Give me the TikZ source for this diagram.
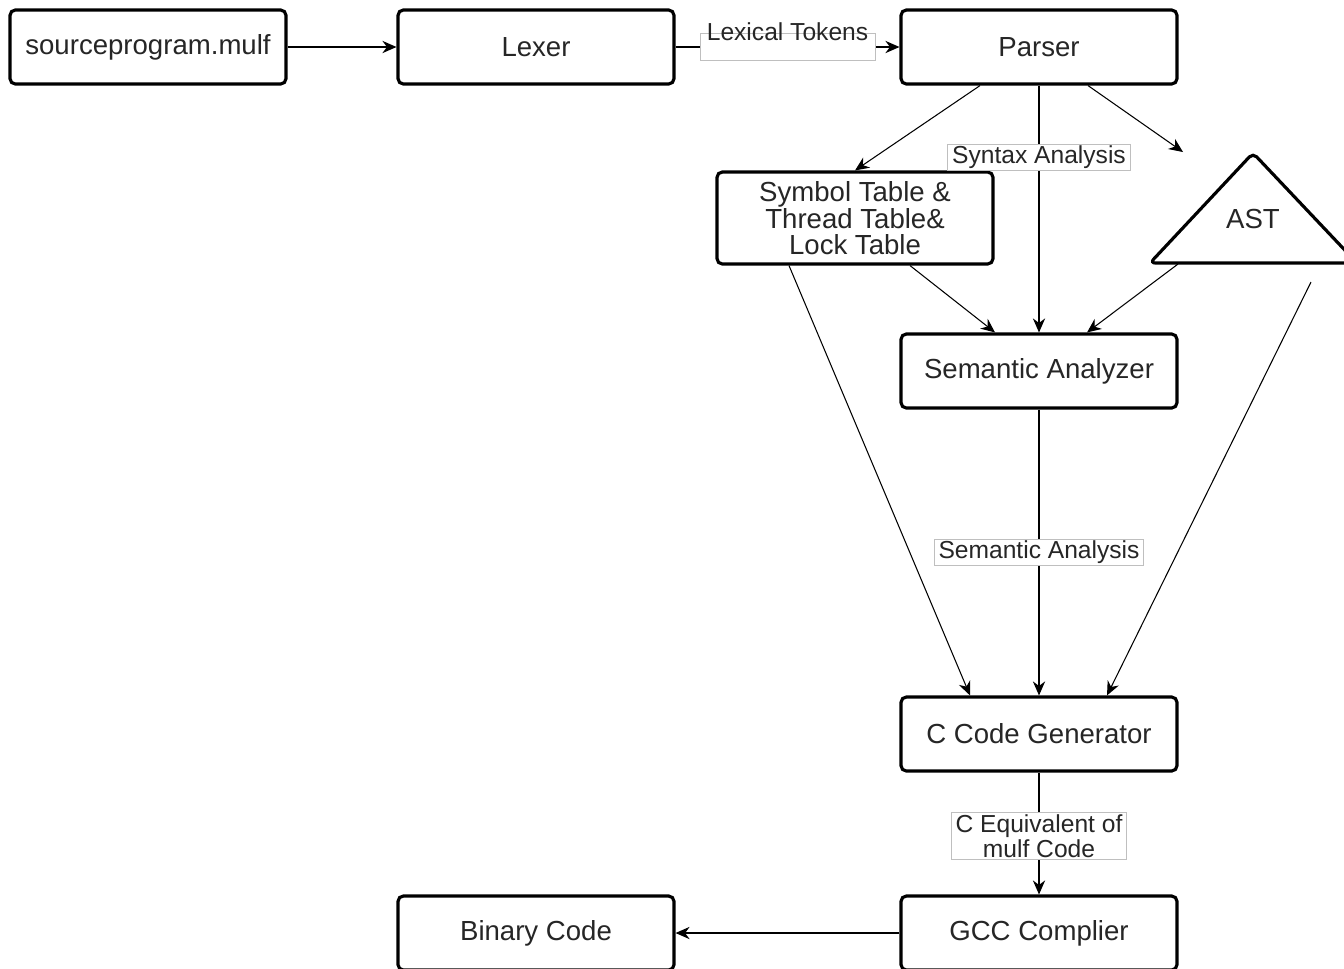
\documentclass[tikz,border=0pt]{standalone}
\usepackage{fontspec}
\setmainfont{Liberation Sans}
\usetikzlibrary{arrows.meta,calc}

\begin{document}
\begin{tikzpicture}[x=0.02cm,y=-0.02cm,
        box/.style={draw,line width=1.8pt,rounded corners=3pt,fill=white,
            minimum width=5.52cm,minimum height=1.48cm,align=center,
            font=\fontsize{15.7}{14.5}\selectfont,text=black!85},
        lbl/.style={draw=black!25,line width=0.5pt,fill=white,inner xsep=2.5pt,
            inner ysep=1pt,align=center,font=\fontsize{14}{13}\selectfont,text=black!85},
        arr/.style={-{Stealth[length=8pt,width=7pt]},line width=0.6pt}]
        \useasboundingbox (0,0) rectangle (1344,968);
        \clip (0,0) rectangle (1344,968);

        \node[box] (src) at (148,47) {sourceprogram.mulf};
        \node[box] (lexer) at (536,47) {Lexer};
        \node[box] (parser) at (1039,47) {Parser};
        \node[box,minimum height=1.84cm] (symtab) at (855,218) {Symbol Table \&\\Thread Table\&\\Lock Table};
        \node[box] (seman) at (1039,371) {Semantic Analyzer};
        \node[box] (ccode) at (1039,734) {C Code Generator};
        \node[box] (gcc) at (1039,933) {GCC Complier};
        \node[box] (binary) at (536,933) {Binary Code};

        % AST triangle
        \draw[line width=1.8pt,rounded corners=3pt,fill=white] (1253,153) -- (1357,263) -- (1150,263) -- cycle;
        \node[font=\fontsize{15.7}{14.5}\selectfont,text=black!85] (ast) at (1253,219) {AST};
        \coordinate (astin) at (1183,152);
        \coordinate (astbase) at (1178,264);
        \coordinate (astout) at (1311,282);

        \draw[arr] (src) -- (lexer);
        \draw[arr] (lexer) -- (parser)
            node[lbl,midway,minimum width=3.5cm,minimum height=0.54cm,
                label={[yshift=0.31cm,font=\fontsize{14}{13}\selectfont,text=black!85]center:Lexical Tokens}] {};
        \draw[arr] ($(parser.south)+(-59,0)$) -- (symtab.north);
        \draw[arr] ($(parser.south)+(49,0)$) -- (astin);
        \draw[arr] (parser) -- (seman) node[lbl,pos=0.29] {Syntax Analysis};
        \draw[arr] ($(symtab.south)+(55,0)$) -- ($(seman.north)+(-44,0)$);
        \draw[arr] (astbase) -- ($(seman.north)+(48,0)$);
        \draw[arr] ($(symtab.south)+(-66,0)$) -- ($(ccode.north)+(-69,0)$);
        \draw[arr] (seman) -- (ccode) node[lbl,midway] {Semantic Analysis};
        \draw[arr] (astout) -- ($(ccode.north)+(68,0)$);
        \draw[arr] (ccode) -- (gcc) node[lbl,pos=0.52] {C Equivalent of\\mulf Code};
        \draw[arr] (gcc) -- (binary);

    \end{tikzpicture}
\end{document}
